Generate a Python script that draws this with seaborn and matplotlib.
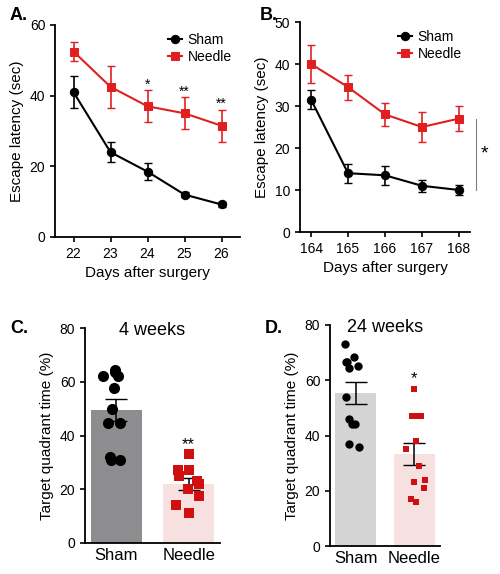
import numpy as np
import pandas as pd
import matplotlib.pyplot as plt
import seaborn as sns

days_a = [22, 23, 24, 25, 26]
sham_a = [41, 24, 18.5, 12, 9.2]
sham_a_err = [4.5, 2.8, 2.5, 0.8, 0.7]
needle_a = [52.5, 42.5, 37, 35, 31.5]
needle_a_err = [2.8, 6, 4.5, 4.5, 4.5]
stars_a = {24: "*", 25: "**", 26: "**"}

days_b = [164, 165, 166, 167, 168]
sham_b = [31.5, 14, 13.5, 11, 10]
sham_b_err = [2.2, 2.3, 2.2, 1.5, 1.2]
needle_b = [40, 34.5, 28, 25, 27]
needle_b_err = [4.5, 3, 2.8, 3.5, 3]

c_sham = [63.5, 62, 62, 64.5, 57.5, 50, 44.5, 44.5, 31, 32, 31]
c_needle = [33, 27, 27, 25, 23, 22, 20, 17.5, 14, 11]
d_sham = [73, 68.5, 66.5, 66.5, 65, 64.5, 54, 46, 44, 44, 37, 36]
d_needle = [57, 47, 47, 47, 38, 35, 29, 24, 23, 21, 17, 16]

RED = "#e02020"
np.random.seed(2)
plt.rcParams["font.family"] = ["Arial", "Liberation Sans", "DejaVu Sans"]
fig = plt.figure(figsize=(5, 5.74), dpi=100)

def rect(l, t, r, b):
    return [l / 500, 1 - b / 574, (r - l) / 500, (b - t) / 574]

def style(ax):
    sns.despine(ax=ax)
    ax.tick_params(labelsize=10, width=1.2)
    for s in ["left", "bottom"]:
        ax.spines[s].set_linewidth(1.3)

def line_panel(ax, days, sham, serr, needle, nerr):
    for y, e, c, m, lab in [(sham, serr, "black", "o", "Sham"), (needle, nerr, RED, "s", "Needle")]:
        df = pd.DataFrame({"day": days, "v": y})
        sns.lineplot(data=df, x="day", y="v", color=c, marker=m, markersize=6,
                     markeredgecolor=c, lw=1.5, ax=ax, label=lab)
        ax.errorbar(days, y, yerr=e, fmt="none", ecolor=c, capsize=3, lw=1.2)
    ax.legend(frameon=False, fontsize=10, handlelength=1, handletextpad=0.4,
              borderaxespad=0.2, loc="upper right", labelspacing=0.2)
    ax.set_xticks(days)
    ax.set_xlabel("Days after surgery", fontsize=11)
    ax.set_ylabel("Escape latency (sec)", fontsize=11)
    style(ax)

ax = fig.add_axes(rect(55, 25, 240, 237))
line_panel(ax, days_a, sham_a, sham_a_err, needle_a, needle_a_err)
ax.set_ylim(0, 60); ax.set_yticks([0, 20, 40, 60]); ax.set_xlim(21.5, 26.5)
for d, s in stars_a.items():
    i = days_a.index(d)
    ax.text(d, needle_a[i] + needle_a_err[i] + 0.5, s, ha="center", fontsize=10)
fig.text(0.02, 0.965, "A.", fontsize=13, weight="bold")

ax = fig.add_axes(rect(300, 22, 470, 232))
line_panel(ax, days_b, sham_b, sham_b_err, needle_b, needle_b_err)
ax.set_ylim(0, 50); ax.set_yticks(range(0, 51, 10)); ax.set_xlim(163.7, 168.3)
ax.plot([168.45, 168.45], [10, 27], color="gray", lw=0.8, clip_on=False)
ax.text(168.6, 18.5, "*", fontsize=14, va="center")
fig.text(0.52, 0.965, "B.", fontsize=13, weight="bold")

def bar_panel(ax, sham, needle, sham_col, title, star, msize):
    df = pd.DataFrame({"g": ["Sham"] * len(sham) + ["Needle"] * len(needle),
                       "v": sham + needle})
    order = ["Sham", "Needle"]
    sns.barplot(data=df, x="g", y="v", hue="g", order=order, palette=[sham_col, "#fbdcdc"],
                errorbar=None, width=0.7, ax=ax, legend=False)
    sns.stripplot(data=df[df.g == "Sham"], x="g", y="v", order=order, color="black",
                  marker="o", jitter=0.2, size=msize, ax=ax)
    sns.stripplot(data=df[df.g == "Needle"], x="g", y="v", order=order, color="#d01010",
                  marker="s", jitter=0.2, size=msize - 1, ax=ax)
    for i, vals in enumerate([sham, needle]):
        m = np.mean(vals)
        se = np.std(vals, ddof=1) / np.sqrt(len(vals))
        ax.errorbar(i, m, yerr=se, fmt="none", ecolor="black", capsize=8, lw=1.1)
    ax.text(1, max(needle) + 2, star, ha="center", fontsize=12)
    ax.set_ylim(0, 80); ax.set_yticks(range(0, 81, 20))
    ax.set_xlabel(""); ax.set_ylabel("Target quadrant time (%)", fontsize=11)
    ax.set_title(title, fontsize=13, y=0.93)
    style(ax)
    ax.tick_params(axis="x", labelsize=12, length=0)

ax = fig.add_axes(rect(85, 328, 220, 543))
bar_panel(ax, c_sham, c_needle, "#8d8d90", "4 weeks", "**", 8)
fig.text(0.02, 0.42, "C.", fontsize=13, weight="bold")

ax = fig.add_axes(rect(330, 325, 440, 546))
bar_panel(ax, d_sham, d_needle, "#d4d4d4", "24 weeks", "*", 6)
fig.text(0.53, 0.42, "D.", fontsize=13, weight="bold")

fig.savefig("out.png", dpi=100)
